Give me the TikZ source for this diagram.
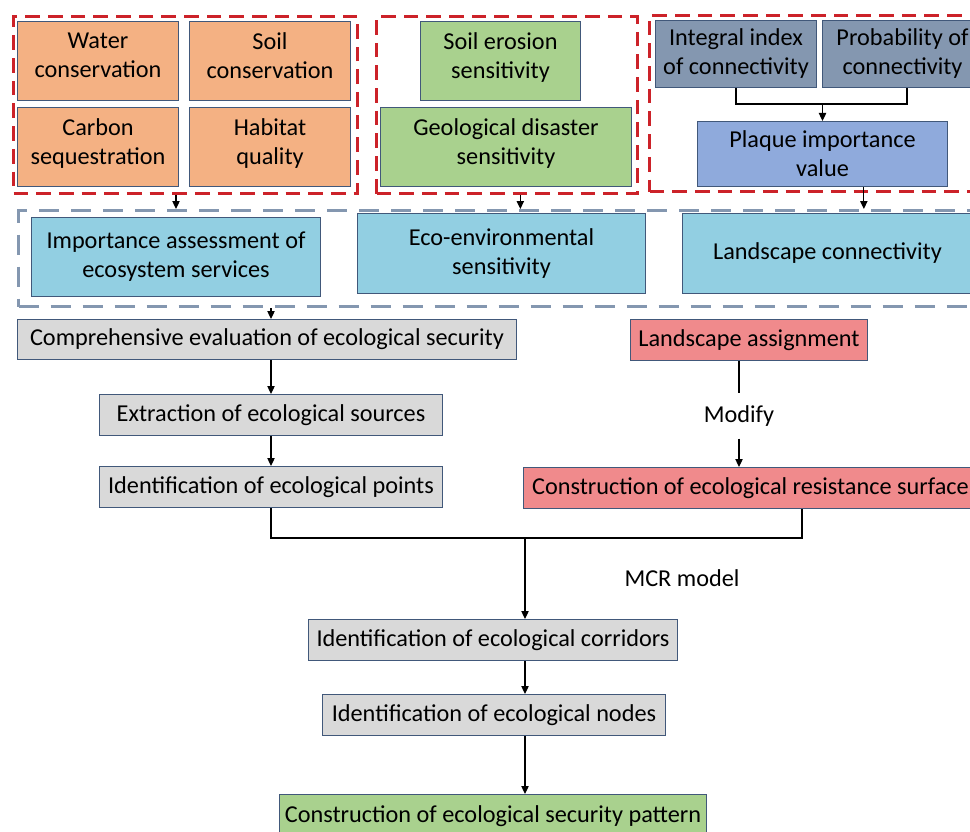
\documentclass[tikz,border=0pt]{standalone}
\usepackage{fontspec}
\setmainfont{Carlito}
\usetikzlibrary{arrows.meta, positioning, calc}

\definecolor{svcorange}{HTML}{F4B183}
\definecolor{sensgreen}{HTML}{A9D18E}
\definecolor{connslate}{HTML}{8497B0}
\definecolor{plaqblue}{HTML}{8FAADC}
\definecolor{critcyan}{HTML}{92CFE2}
\definecolor{procgrey}{HTML}{D9D9D9}
\definecolor{resired}{HTML}{F08A8C}
\definecolor{finalgreen}{HTML}{A9D18E}
\definecolor{framered}{HTML}{CC2229}
\definecolor{frameblue}{HTML}{8497B0}
\definecolor{edgeblue}{HTML}{41587A}

\newlength{\pxu}
\setlength{\pxu}{0.75pt}

\begin{document}
\begin{tikzpicture}[
    x = 0.75pt, y = -0.75pt,
    font = \fontsize{18.2}{21.75}\selectfont,
    box/.style     = {draw = edgeblue, line width = 0.75pt, align = center,
                      inner sep = 2pt, anchor = north west},
    svc/.style     = {box, fill = svcorange, text depth = 8pt},
    sens/.style    = {box, fill = sensgreen, text depth = 8pt},
    conn/.style    = {box, fill = connslate},
    plaq/.style    = {box, fill = plaqblue},
    crit/.style    = {box, fill = critcyan},
    proc/.style    = {box, fill = procgrey},
    resi/.style    = {box, fill = resired},
    final/.style   = {box, fill = finalgreen},
    redgrp/.style  = {draw = framered, line width = 2.25pt, inner sep = 0pt,
                      dash pattern = on 11pt off 6pt, anchor = north west},
    bluegrp/.style = {draw = frameblue, line width = 2.25pt, inner sep = 0pt,
                      dash pattern = on 15pt off 9pt, anchor = north west},
    arr/.style     = {-{Triangle[length=6pt, width=5.5pt]}, line width = 0.9pt},
    link/.style    = {line width = 0.9pt},
  ]
    \useasboundingbox (0,0) rectangle (970,831);
    \clip (0,0) rectangle (970,831);

    %% ── Indicator groups (red frames) ────────────────────────────
    \node[redgrp, minimum width=344\pxu, minimum height=177\pxu] (G1) at (12,15) {};
    \node[redgrp, minimum width=261\pxu, minimum height=177\pxu] (G2) at (375,15) {};
    \node[redgrp, minimum width=340\pxu, minimum height=176\pxu] (G3) at (648,14) {};

    \node[svc, minimum width=161\pxu, minimum height=79\pxu] (water)   at (17,21)  {Water\\conservation};
    \node[svc, minimum width=161\pxu, minimum height=79\pxu] (soil)    at (189,21) {Soil\\conservation};
    \node[svc, minimum width=161\pxu, minimum height=79\pxu] (carbon)  at (17,107) {Carbon\\sequestration};
    \node[svc, minimum width=161\pxu, minimum height=79\pxu] (habitat) at (189,107) {Habitat\\quality};

    \node[sens, minimum width=160\pxu, minimum height=79\pxu] (erosion) at (420,21) {Soil erosion\\sensitivity};
    \node[sens, minimum width=251\pxu, minimum height=79\pxu] (geo)     at (380,107) {Geological disaster\\sensitivity};

    \node[conn, minimum width=161\pxu, minimum height=67\pxu] (iic) at (655,20)  {Integral index\\of connectivity};
    \node[conn, minimum width=160\pxu, minimum height=67\pxu] (pc)  at (822,20)  {Probability of\\connectivity};
    \node[plaq, minimum width=250\pxu, minimum height=65\pxu] (piv) at (697,121) {Plaque importance\\value};

    %% ── Evaluation criteria (blue frame) ─────────────────────────
    \node[bluegrp, minimum width=980\pxu, minimum height=96\pxu] (B) at (17,209) {};

    \node[crit, minimum width=289\pxu, minimum height=79\pxu] (ies) at (31,217)  {Importance assessment of\\ecosystem services};
    \node[crit, minimum width=288\pxu, minimum height=80\pxu] (ees) at (357,213) {Eco-environmental\\sensitivity};
    \node[crit, minimum width=290\pxu, minimum height=80\pxu] (lc)  at (682,213) {Landscape connectivity};

    %% ── Process chain ────────────────────────────────────────────
    \node[proc, minimum width=499\pxu, minimum height=40\pxu] (comp) at (17,319) {Comprehensive evaluation of ecological security};
    \node[proc, minimum width=343\pxu, minimum height=41\pxu] (ext)  at (99,394) {Extraction of ecological sources};
    \node[proc, minimum width=343\pxu, minimum height=41\pxu] (pts)  at (99,466) {Identification of ecological points};

    \node[resi, minimum width=237\pxu, minimum height=41\pxu] (la)  at (630,319) {Landscape assignment};
    \node[inner xsep = 2pt, inner ysep = 9pt] (mod) at (739,416) {Modify};
    \node[resi, minimum width=454\pxu, minimum height=41\pxu] (res) at (523,467) {Construction of ecological resistance surface};

    \node (mcr) at (682,578) {MCR model};

    \node[proc, minimum width=369\pxu, minimum height=41\pxu]  (corr) at (308,619) {Identification of ecological corridors};
    \node[proc, minimum width=343\pxu, minimum height=41\pxu]  (nod)  at (322,694) {Identification of ecological nodes};
    \node[final, minimum width=427\pxu, minimum height=44\pxu] (sec)  at (279,794) {Construction of ecological security pattern};

    %% ── Junction points ──────────────────────────────────────────
    \coordinate (PJ) at (907,104);
    \coordinate (J)  at (525,538);
    \coordinate (R)  at (802,538);

    %% ── Connectivity indices to plaque value ─────────────────────
    \draw[link] (iic.south) |- (PJ) -- (pc.south -| PJ);
    \draw[arr]  (piv.north |- PJ) -- (piv.north);

    %% ── Groups into criteria ─────────────────────────────────────
    \draw[arr] (G1.south -| ies.north) -- (B.north -| ies.north);
    \draw[arr] ([xshift=10pt]G2.south) -- ([xshift=10pt]G2.south |- B.north);
    \draw[arr] ([xshift=31pt]piv.south) -- ([xshift=31pt]piv.south |- B.north);

    %% ── Left column ──────────────────────────────────────────────
    \draw[arr] (B.south -| ext.north) -- (comp.north -| ext.north);
    \draw[arr] (comp.south -| ext.north) -- (ext.north);
    \draw[arr] (ext) -- (pts);

    %% ── Right column ─────────────────────────────────────────────
    \draw[link] (la.south -| mod) -- (mod);
    \draw[arr]  (mod) -- (res.north -| mod);

    %% ── Merge and MCR chain ──────────────────────────────────────
    \draw[link] (pts.south) |- (R) -- (res.south -| R);
    \draw[arr]  (J) -- (corr.north -| J);
    \draw[arr]  (corr.south -| J) -- (nod.north -| J);
    \draw[arr]  (nod.south -| J) -- (sec.north -| J);
  \end{tikzpicture}
\end{document}
